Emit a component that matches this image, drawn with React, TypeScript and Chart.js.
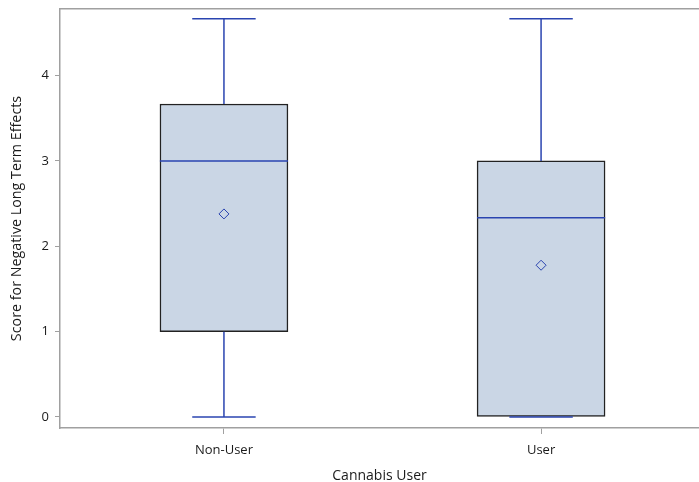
import React, { useEffect, useRef } from "react";
import { Chart, registerables } from "chart.js";

Chart.register(...registerables);

const categories = ["Non-User", "User"];
const q1Values = [1, 0];
const q3Values = [3.667, 3];
const medianValues = [3, 2.333];
const minValues = [0, 0];
const maxValues = [4.667, 4.667];
const meanValues = [2.379, 1.778];
const yTicks = [0, 1, 2, 3, 4];

const BLUE = "#2a44b0";
const BOX_FILL = "#cad6e5";
const BOX_EDGE = "#222222";
const AXIS = "#a0a0a0";
const TEXT = "#1a1a1a";
const FONT = "'Open Sans', 'Noto Sans', sans-serif";

const BOX_HALF = 0.202;
const CAP_HALF = 0.1;

export default function App() {
  const ref = useRef<HTMLCanvasElement | null>(null);

  useEffect(() => {
    if (!ref.current) return;
    const datasets: any[] = [];

    datasets.push({
      type: "bar",
      data: categories.map((_, i) => ({ x: i, y: [q1Values[i], q3Values[i]] })),
      backgroundColor: BOX_FILL,
      borderColor: BOX_EDGE,
      borderWidth: 1.5,
      borderSkipped: false,
      barThickness: 128,
      order: 3,
    });

    const seg = (pts: { x: number; y: number }[]) => ({
      type: "line",
      data: pts,
      borderColor: BLUE,
      borderWidth: 1.5,
      pointRadius: 0,
      fill: false,
      order: 1,
    });

    categories.forEach((_, i) => {
      datasets.push(seg([{ x: i, y: q3Values[i] }, { x: i, y: maxValues[i] }]));
      datasets.push(seg([{ x: i, y: minValues[i] }, { x: i, y: q1Values[i] }]));
      datasets.push(seg([{ x: i - CAP_HALF, y: maxValues[i] }, { x: i + CAP_HALF, y: maxValues[i] }]));
      datasets.push(seg([{ x: i - CAP_HALF, y: minValues[i] }, { x: i + CAP_HALF, y: minValues[i] }]));
      datasets.push(seg([{ x: i - BOX_HALF, y: medianValues[i] }, { x: i + BOX_HALF, y: medianValues[i] }]));
    });

    datasets.push({
      type: "scatter",
      data: categories.map((_, i) => ({ x: i, y: meanValues[i] })),
      pointStyle: "rectRot",
      pointRadius: 5,
      pointBorderWidth: 1,
      pointBorderColor: BLUE,
      pointBackgroundColor: "rgba(0,0,0,0)",
      showLine: false,
      order: 0,
    });

    const chart = new Chart(ref.current, {
      type: "bar",
      data: { datasets },
      options: {
        animation: false,
        responsive: false,
        layout: { autoPadding: false, padding: { top: 9, right: 0, bottom: 0, left: 0 } },
        plugins: { legend: { display: false }, tooltip: { enabled: false } },
        scales: {
          x: {
            type: "linear",
            position: "bottom",
            offset: false,
            min: -0.517,
            max: 1.498,
            afterBuildTicks: (s: any) => {
              s.ticks = categories.map((_, i) => ({ value: i }));
            },
            afterFit: (s: any) => {
              s.height = 54;
              s.paddingLeft = 0;
              s.paddingRight = 0;
            },
            ticks: {
              callback: (v: any) => categories[Number(v)] ?? "",
              color: TEXT,
              font: { family: FONT, size: 13 },
              padding: 8,
              maxRotation: 0,
              autoSkip: false,
            },
            grid: { offset: false, drawOnChartArea: false, color: AXIS, tickLength: 6 },
            border: { display: true, color: AXIS, width: 1.5 },
            title: {
              display: true,
              text: "Cannabis User",
              color: TEXT,
              font: { family: FONT, size: 14 },
              padding: { top: 0, bottom: -2 },
            },
          },
          xTop: {
            type: "linear",
            position: "top",
            offset: false,
            min: -0.517,
            max: 1.498,
            ticks: { display: false },
            grid: { display: false, drawTicks: false, offset: false },
            border: { display: true, color: AXIS, width: 1.5 },
            afterFit: (s: any) => {
              s.height = 0;
              s.paddingLeft = 0;
              s.paddingRight = 0;
            },
          },
          y: {
            type: "linear",
            min: -0.129,
            max: 4.78,
            afterBuildTicks: (s: any) => {
              s.ticks = yTicks.map((v) => ({ value: v }));
            },
            afterFit: (s: any) => {
              s.width = 60;
              s.paddingTop = 0;
              s.paddingBottom = 0;
            },
            ticks: {
              color: TEXT,
              font: { family: FONT, size: 13 },
              padding: 6,
            },
            grid: { drawOnChartArea: false, color: AXIS, tickLength: 5 },
            border: { display: true, color: AXIS, width: 1.5 },
            title: {
              display: true,
              text: "Score for Negative Long Term Effects",
              color: TEXT,
              font: { family: FONT, size: 14.3 },
              padding: { top: 8, bottom: 0 },
            },
          },
        },
      } as any,
    });
    return () => chart.destroy();
  }, []);

  return (
    <div style={{ position: "absolute", left: 0, top: 0, width: 699, height: 482 }}>
      <canvas ref={ref} width={699} height={482} />
    </div>
  );
}
